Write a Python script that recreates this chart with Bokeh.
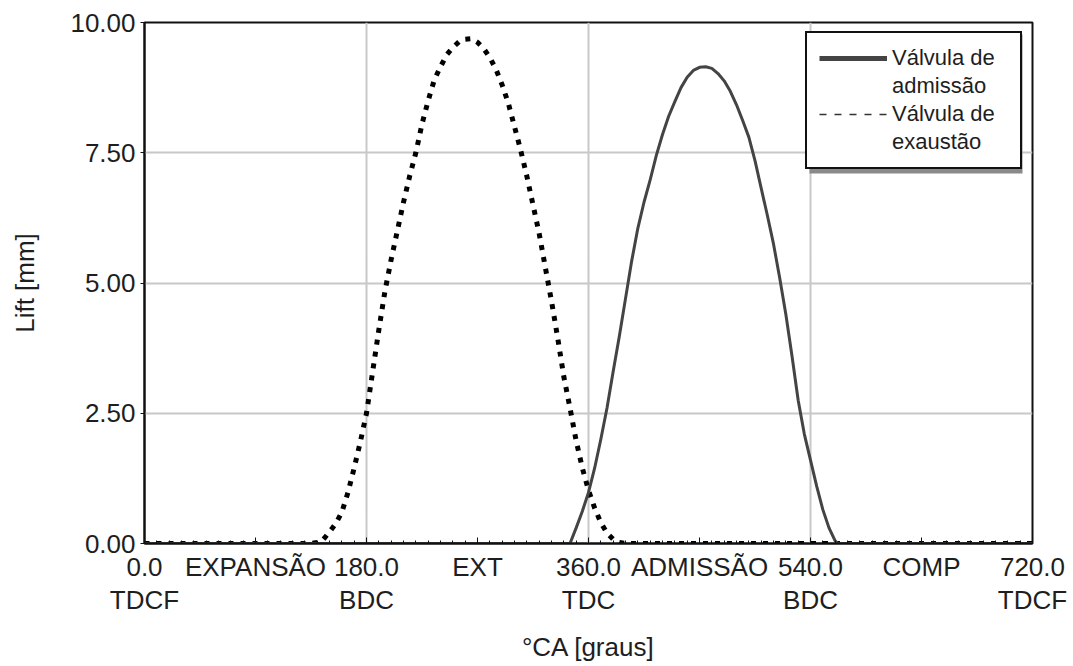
from bokeh.plotting import figure
from bokeh.models import (Range1d, FixedTicker, Legend, LegendItem, BoxAnnotation,
                          NumeralTickFormatter)
from bokeh.embed import file_html
from bokeh.resources import INLINE

NAN = float("nan")

# ---- data ----
intake_deg = [0, 340, 345, 350, 355, 360, 365, 370, 375, 380, 385, 390, 395, 400, 405,
              410, 415, 420, 425, 430, 435, 440, 445, 450, 455, 460, 465, 470, 475,
              480, 485, 490, 495, 500, 505, 510, 515, 520, 525, 530, 535, 540, 545,
              550, 555, 560, 562, 720]
intake_lift = [0.0, 0.0, 0.0, 0.3, 0.62, 0.98, 1.45, 2.0, 2.6, 3.3, 3.98, 4.7, 5.42, 6.05, 6.55,
               6.98, 7.45, 7.85, 8.2, 8.48, 8.75, 8.95, 9.08, 9.14, 9.15, 9.12, 9.02, 8.88, 8.68,
               8.42, 8.12, 7.8, 7.35, 6.82, 6.3, 5.75, 5.1, 4.4, 3.6, 2.75, 2.1, 1.6, 1.1,
               0.65, 0.3, 0.05, 0.0, 0.0]

exhaust_deg = [0, 135, 140, 145, 150, 155, 160, 165, 170, 175, 180, 185, 190, 195, 200,
               205, 210, 215, 220, 225, 230, 235, 240, 245, 250, 255, 260, 265, 270,
               275, 280, 285, 290, 295, 300, 305, 310, 315, 320, 325, 330, 335, 340,
               345, 350, 355, 360, 365, 370, 375, 380, 385, 390, 720]
exhaust_lift = [0.0, 0.0, 0.02, 0.08, 0.22, 0.38, 0.6, 0.98, 1.45, 1.95, 2.5, 3.3, 4.1, 4.85, 5.45,
                6.0, 6.55, 7.05, 7.5, 8.05, 8.5, 8.9, 9.15, 9.38, 9.52, 9.63, 9.68, 9.69, 9.62,
                9.5, 9.33, 9.1, 8.8, 8.45, 8.0, 7.55, 7.05, 6.5, 5.95, 5.3, 4.65, 3.95, 3.2,
                2.6, 1.97, 1.45, 1.02, 0.68, 0.4, 0.2, 0.08, 0.02, 0.0, 0.0]

x_ticks = [0, 90, 180, 270, 360, 450, 540, 630, 720]
x_tick_labels = ["0.0\nTDCF", "EXPANSÃO", "180.0\nBDC", "EXT", "360.0\nTDC",
                 "ADMISSÃO", "540.0\nBDC", "COMP", "720.0\nTDCF"]
x_minor_ticks = list(range(0, 721, 10))
x_grid_ticks = [180, 360, 540]
y_ticks = [0, 2.5, 5, 7.5, 10]
y_grid_ticks = [2.5, 5, 7.5]

series_labels = ["Válvula de\nadmissão", "Válvula de\nexaustão"]

FONT = "Liberation Sans"
TXT = "#1e1e1e"

p = figure(width=1073, height=666, output_backend="svg", toolbar_location=None,
           x_range=Range1d(0, 720), y_range=Range1d(0, 10),
           min_border_left=144, min_border_right=41, min_border_top=22, min_border_bottom=123,
           x_axis_label="°CA [graus]", y_axis_label="Lift [mm]")
p.background_fill_color = "white"
p.border_fill_color = "white"
p.outline_line_color = "#111111"
p.outline_line_width = 2

# grids
p.xgrid.ticker = FixedTicker(ticks=x_grid_ticks)
p.ygrid.ticker = FixedTicker(ticks=y_grid_ticks)
for g in (p.xgrid, p.ygrid):
    g.grid_line_color = "#c8c8c8"
    g.grid_line_width = 2

# x axis
xa = p.xaxis[0]
xa.ticker = FixedTicker(ticks=x_ticks, minor_ticks=x_minor_ticks)
xa.major_label_overrides = {t: lab for t, lab in zip(x_ticks, x_tick_labels)}
xa.major_tick_in = 6
xa.major_tick_out = 0
xa.minor_tick_in = 3
xa.minor_tick_out = 0
xa.major_label_standoff = 8
xa.major_label_text_line_height = 1.13
xa.axis_label_standoff = 14

# y axis
ya = p.yaxis[0]
ya.ticker = FixedTicker(ticks=y_ticks, minor_ticks=[])
ya.formatter = NumeralTickFormatter(format="0.00")
ya.major_tick_in = 0
ya.major_tick_out = 4
ya.minor_tick_in = 0
ya.minor_tick_out = 0
ya.major_label_standoff = 5
ya.axis_label_standoff = 27

for ax in (xa, ya):
    ax.axis_line_color = "#111111"
    ax.axis_line_width = 2
    ax.major_tick_line_color = "#111111"
    ax.minor_tick_line_color = "#111111"
    ax.major_tick_line_width = 1
    ax.minor_tick_line_width = 1
    ax.major_label_text_font = FONT
    ax.major_label_text_font_size = "26px"
    ax.major_label_text_color = TXT
    ax.axis_label_text_font = FONT
    ax.axis_label_text_font_size = "26px"
    ax.axis_label_text_font_style = "normal"
    ax.axis_label_text_color = TXT

# curves
p.line(exhaust_deg, exhaust_lift, line_color="black", line_width=5,
       line_dash="5 7", line_cap="butt", line_join="round")
p.line(intake_deg, intake_lift, line_color="#444444", line_width=3, line_join="round")

# legend samples (renderers that draw nothing in the plot)
r_in = p.line(x=[NAN], y=[NAN], line_color="#444444", line_width=5)
r_ex = p.line(x=[NAN], y=[NAN], line_color="#333333", line_width=1.3, line_dash="7 8")
r_blank = p.line(x=[NAN], y=[NAN], line_alpha=0)

shadow = BoxAnnotation(left=665, right=878, top=509, bottom=370,
                       left_units="screen", right_units="screen",
                       top_units="screen", bottom_units="screen",
                       fill_color="#8a8a8a", fill_alpha=1, line_alpha=0)
p.add_layout(shadow)

items = []
for lab, r in zip(series_labels, [r_in, r_ex]):
    first, second = lab.split("\n")
    items.append(LegendItem(label=first, renderers=[r]))
    items.append(LegendItem(label=second, renderers=[r_blank]))

legend = Legend(items=items, location=(661, 374))
legend.label_text_font = FONT
legend.label_text_font_size = "22px"
legend.label_text_color = TXT
legend.glyph_width = 68
legend.glyph_height = 24
legend.label_height = 24
legend.label_standoff = 5
legend.label_width = 116
legend.padding = 12
legend.spacing = 2
legend.margin = 0
legend.border_line_color = "#111111"
legend.border_line_width = 2
legend.border_line_alpha = 1
legend.background_fill_color = "white"
legend.background_fill_alpha = 1
p.add_layout(legend, "center")

open("out.html", "w").write(file_html(p, INLINE))
